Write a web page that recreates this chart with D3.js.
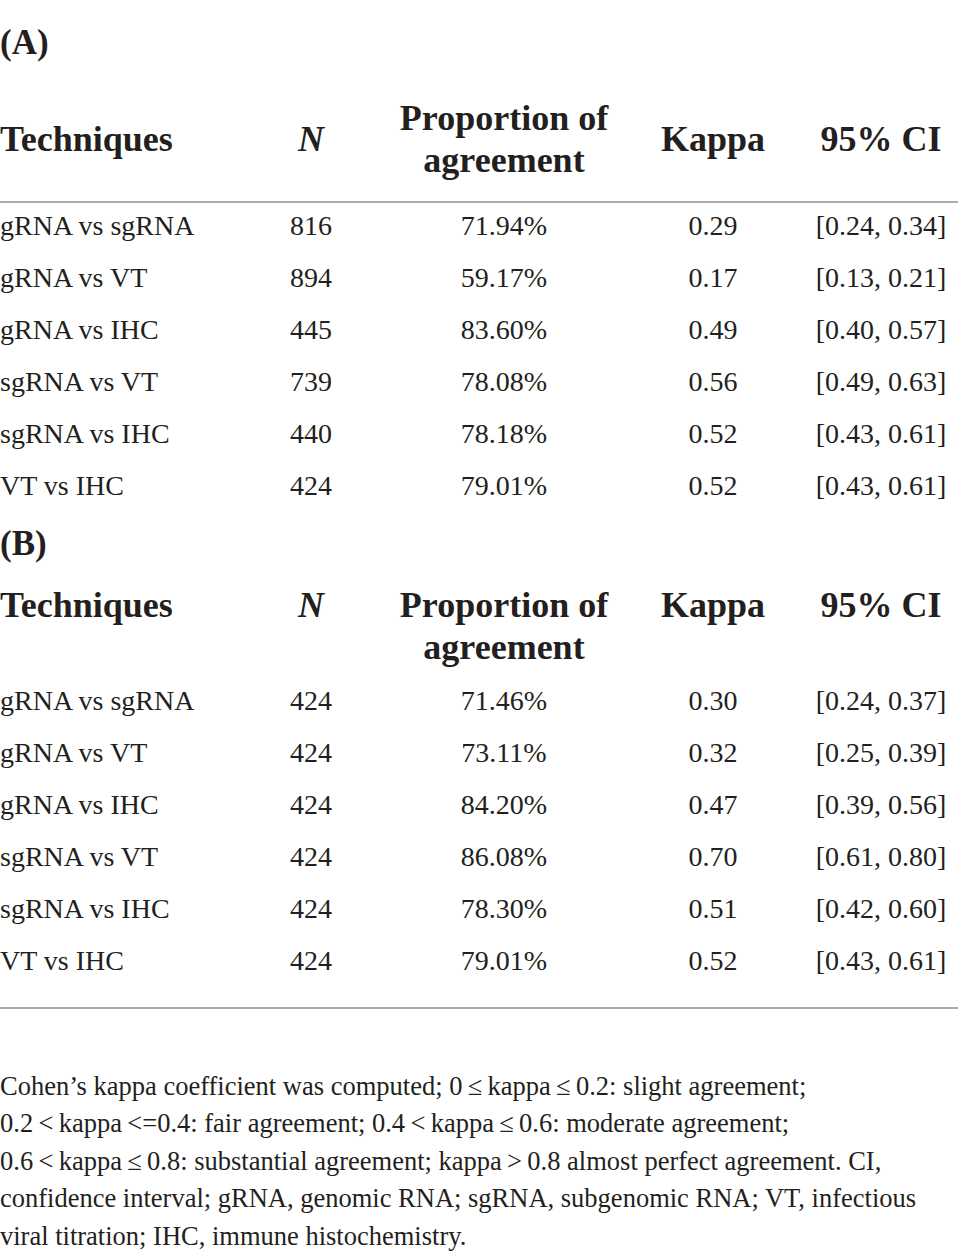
<!DOCTYPE html>
<html lang="en">
<head>
<meta charset="utf-8">
<title>Kappa agreement table</title>
<script src="https://cdnjs.cloudflare.com/ajax/libs/d3/7.8.5/d3.min.js"></script>
<style>
  body { margin: 0; background: #fff; }
  text { font-family: "Liberation Serif", "DejaVu Serif", serif; fill: #231f20; }
  .panel { font-weight: bold; font-size: 35px; }
  .head { font-weight: bold; font-size: 36px; }
  .cell { font-size: 28px; }
  .note { font-size: 26.5px; }
</style>
</head>
<body>
<div id="chart"></div>
<script>
// data
var techniques = ["gRNA vs sgRNA", "gRNA vs VT", "gRNA vs IHC", "sgRNA vs VT", "sgRNA vs IHC", "VT vs IHC"];

var nA = [816, 894, 445, 739, 440, 424];
var propA = [71.94, 59.17, 83.60, 78.08, 78.18, 79.01];
var kappaA = [0.29, 0.17, 0.49, 0.56, 0.52, 0.52];
var ciA = [[0.24, 0.34], [0.13, 0.21], [0.40, 0.57], [0.49, 0.63], [0.43, 0.61], [0.43, 0.61]];

var nB = [424, 424, 424, 424, 424, 424];
var propB = [71.46, 73.11, 84.20, 86.08, 78.30, 79.01];
var kappaB = [0.30, 0.32, 0.47, 0.70, 0.51, 0.52];
var ciB = [[0.24, 0.37], [0.25, 0.39], [0.39, 0.56], [0.61, 0.80], [0.42, 0.60], [0.43, 0.61]];

var columns = ["tech", "n", "prop", "kappa", "ci"];

var notes = [
  "Cohen\u2019s kappa coefficient was computed; 0\u2009\u2264\u2009kappa\u2009\u2264\u20090.2: slight agreement;",
  "0.2\u2009<\u2009kappa\u2009<=0.4: fair agreement; 0.4\u2009<\u2009kappa\u2009\u2264\u20090.6: moderate agreement;",
  "0.6\u2009<\u2009kappa\u2009\u2264\u20090.8: substantial agreement; kappa\u2009>\u20090.8 almost perfect agreement. CI,",
  "confidence interval; gRNA, genomic RNA; sgRNA, subgenomic RNA; VT, infectious",
  "viral titration; IHC, immune histochemistry."
];

var width = 958,
    height = 1260;

var svg = d3.select("#chart").append("svg")
    .attr("width", width)
    .attr("height", height);

svg.append("rect")
    .attr("width", width)
    .attr("height", height)
    .attr("fill", "#fff");

// x centre of each column (first column is left aligned at 0)
var x = d3.scaleOrdinal()
    .domain(columns)
    .range([0, 311, 504, 713, 881]);

var fmt2 = d3.format(".2f");

function rowsOf(n, prop, kappa, ci) {
  return techniques.map(function(t, i) {
    return {
      tech: t,
      n: String(n[i]),
      prop: fmt2(prop[i]) + "%",
      kappa: fmt2(kappa[i]),
      ci: "[" + fmt2(ci[i][0]) + ", " + fmt2(ci[i][1]) + "]"
    };
  });
}

function drawPanel(label, labelY, headY, rowY0, rows, middle) {
  svg.append("text")
      .attr("class", "panel")
      .attr("x", 0)
      .attr("y", labelY)
      .text(label);

  // header: single-line cells sit mid or top relative to the 2-line one
  var single = middle ? headY + 21 : headY;
  var heads = [
    {key: "tech", lines: ["Techniques"]},
    {key: "n", lines: ["N"], italic: true},
    {key: "prop", lines: ["Proportion of", "agreement"]},
    {key: "kappa", lines: ["Kappa"]},
    {key: "ci", lines: ["95% CI"]}
  ];
  heads.forEach(function(h) {
    h.lines.forEach(function(l, j) {
      svg.append("text")
          .attr("class", "head")
          .attr("x", x(h.key))
          .attr("y", h.lines.length > 1 ? headY + j * 42 : single)
          .attr("text-anchor", h.key === "tech" ? "start" : "middle")
          .style("font-style", h.italic ? "italic" : null)
          .text(l);
    });
  });

  var y = d3.scaleLinear()
      .domain([0, 1])
      .range([rowY0, rowY0 + 52]);

  var g = svg.append("g");
  rows.forEach(function(r, i) {
    columns.forEach(function(c) {
      g.append("text")
          .attr("class", "cell")
          .attr("x", x(c))
          .attr("y", y(i))
          .attr("text-anchor", c === "tech" ? "start" : "middle")
          .text(r[c]);
    });
  });
}

drawPanel("(A)", 54, 130, 235, rowsOf(nA, propA, kappaA, ciA), true);
drawPanel("(B)", 555, 617, 710, rowsOf(nB, propB, kappaB, ciB), false);

// rules
[202, 1008].forEach(function(ry) {
  svg.append("line")
      .attr("x1", 0)
      .attr("x2", width)
      .attr("y1", ry)
      .attr("y2", ry)
      .attr("stroke", "#8f8f8f")
      .attr("stroke-width", 1.6);
});

// footnote
var ny = d3.scaleLinear().domain([0, 1]).range([1095, 1132.4]);
svg.selectAll("text.note")
    .data(notes)
  .enter().append("text")
    .attr("class", "note")
    .attr("x", 0)
    .attr("y", function(d, i) { return ny(i); })
    .text(function(d) { return d; });
</script>
</body>
</html>
